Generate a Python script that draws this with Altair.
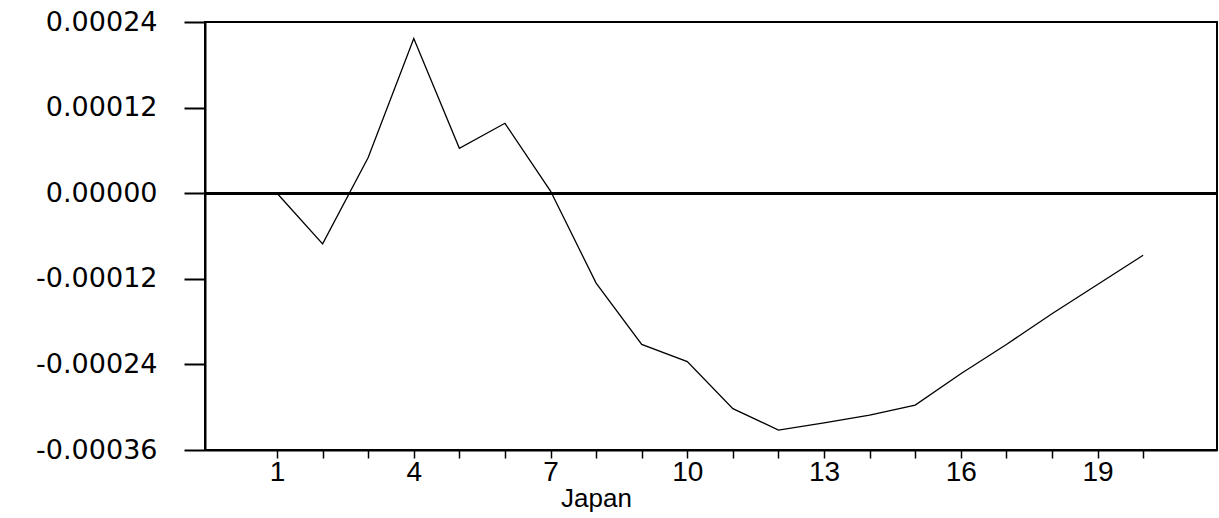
import altair as alt
import pandas as pd

# Impulse response of the Japan series over 20 periods
horizon = list(range(1, 21))
response = [
    0.0, -0.000071, 0.00005, 0.000217, 0.000063,
    0.000098, 0.000003, -0.000126, -0.000212, -0.000236,
    -0.000302, -0.000332, -0.000322, -0.000311, -0.000297,
    -0.000253, -0.000212, -0.000169, -0.000128, -0.000087,
]
y_ticks = [-0.00036, -0.00024, -0.00012, 0.0, 0.00012, 0.00024]
x_labelled = [1, 4, 7, 10, 13, 16, 19]
country = "Japan"

df = pd.DataFrame({"period": horizon, "response": response})

x_scale = alt.Scale(domain=[-0.58, 21.62], nice=False, zero=False)
y_scale = alt.Scale(domain=[y_ticks[0], y_ticks[-1]], nice=False, zero=False)

label_list = "[" + ",".join(str(v) for v in x_labelled) + "]"
x_axis = alt.Axis(
    title=country,
    values=horizon,
    labelExpr=f"indexof({label_list}, datum.value) >= 0 ? datum.value : ''",
    grid=False,
    ticks=True,
    tickSize=8,
    tickColor="black",
    tickWidth=1.5,
    domainColor="black",
    domainWidth=2,
    labelFont="Liberation Sans",
    labelFontSize=28,
    labelColor="black",
    labelBaseline="alphabetic",
    labelPadding=22,
    labelOverlap=False,
    labelFlush=False,
    titleFont="Liberation Sans",
    titleFontSize=26,
    titleFontWeight="normal",
    titleColor="black",
    titleX=391,
    titleY=56,
    titleAlign="center",
    titleBaseline="alphabetic",
)

y_axis = alt.Axis(
    title=None,
    values=y_ticks,
    labelExpr="replace(format(datum.value, '.5f'), '\u2212', '-')",
    grid=False,
    tickSize=21,
    tickColor="black",
    tickWidth=2,
    domainColor="black",
    domainWidth=2,
    labelFont="DejaVu Sans",
    labelFontSize=27,
    labelColor="black",
    labelPadding=27,
    labelAlign="right",
    labelBaseline="middle",
    labelOverlap=False,
    labelFlush=False,
)

line = alt.Chart(df).mark_line(color="black", strokeWidth=1.3).encode(
    x=alt.X("period:Q", scale=x_scale, axis=x_axis),
    y=alt.Y("response:Q", scale=y_scale, axis=y_axis),
)

zero_rule = alt.Chart(df).mark_rule(color="black", strokeWidth=2).encode(
    y=alt.datum(0, scale=y_scale),
)

chart = (
    alt.layer(zero_rule, line)
    .properties(
        width=1012,
        height=428,
        padding={"left": 205, "top": 22, "right": 2, "bottom": 68},
        autosize=alt.AutoSizeParams(type="none"),
        background="white",
    )
    .configure_view(stroke="black", strokeWidth=2)
)

chart.save("out.html", embed_options={"renderer": "svg", "actions": False})
